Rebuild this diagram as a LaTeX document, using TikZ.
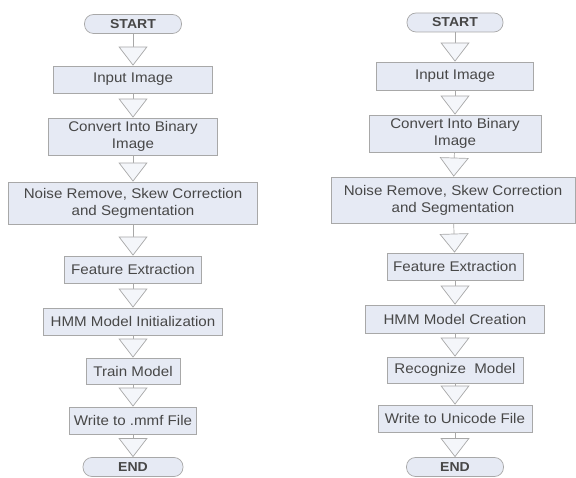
\documentclass[tikz,border=0pt]{standalone}
\usepackage{fontspec}
\setmainfont{Liberation Sans}[FakeStretch=1.08]
\usetikzlibrary{arrows.meta}
\definecolor{boxfill}{HTML}{E6EAF4}
\definecolor{boxline}{HTML}{A8A8A8}
\definecolor{trifill}{HTML}{F4F6FA}
\definecolor{txt}{HTML}{474747}
\begin{document}
\begin{tikzpicture}[x=1pt,y=-1pt,
  pbox/.style 2 args={draw=boxline, fill=boxfill, line width=0.7pt, text=txt,
    font=\fontsize{14}{17}\selectfont, align=center, inner sep=0pt,
    minimum width=#1, minimum height=#2},
  pill/.style={pbox={#1}{19}, rounded corners=9pt, font=\fontsize{13}{15}\selectfont\bfseries},
  flow/.style={draw=boxline, line width=0.7pt,
    -{Triangle[length=19pt,width=29pt,fill=trifill]}}
]
\useasboundingbox (0,0) rectangle (576,478);
% left column
\node[pill=97] (ls) at (133,24) {START};
\node[pbox={159}{27}] (l1) at (133,79.5) {Input Image};
\node[pbox={169}{37}] (l2) at (133,136.5) {Convert Into Binary\\Image};
\node[pbox={249}{42}] (l3) at (133,203) {Noise Remove, Skew Correction\\and Segmentation};
\node[pbox={137}{27}] (l4) at (133,269.5) {Feature Extraction};
\node[pbox={179}{27}] (l5) at (133,321.5) {HMM Model Initialization};
\node[pbox={94}{26}] (l6) at (133,371) {Train Model};
\node[pbox={127}{27}] (l7) at (133,420.5) {Write to .mmf File};
\node[pill=100] (le) at (133,467) {END};
\draw[flow] (ls) -- (l1);
\draw[flow] (l1) -- (l2);
\draw[flow] (l2) -- (l3);
\draw[flow] (l3) -- (l4);
\draw[flow] (l4) -- (l5);
\draw[flow] (l5) -- (l6);
\draw[flow] (l6) -- (l7);
\draw[flow] (l7) -- (le);
% right column
\node[pill=96] (rs) at (455,22.5) {START};
\node[pbox={157}{28}] (r1) at (455,76) {Input Image};
\node[pbox={172}{37}] (r2) at (455,133.5) {Convert Into Binary\\Image};
\node[pbox={244}{46}] (r3) at (453,200) {Noise Remove, Skew Correction\\and Segmentation};
\node[pbox={136}{27}] (r4) at (455,266.5) {Feature Extraction};
\node[pbox={179}{28}] (r5) at (455,319) {HMM Model Creation};
\node[pbox={136}{26}] (r6) at (455,370) {Recognize\ \ Model};
\node[pbox={154}{27}] (r7) at (455,418.5) {Write to Unicode File};
\node[pill=97] (re) at (455,467) {END};
\draw[flow] (rs) -- (r1);
\draw[flow] (r1) -- (r2);
\draw[flow] (r2) -- (r3);
\draw[flow] (r3) -- (r4);
\draw[flow] (r4) -- (r5);
\draw[flow] (r5) -- (r6);
\draw[flow] (r6) -- (r7);
\draw[flow] (r7) -- (re);
\end{tikzpicture}
\end{document}
